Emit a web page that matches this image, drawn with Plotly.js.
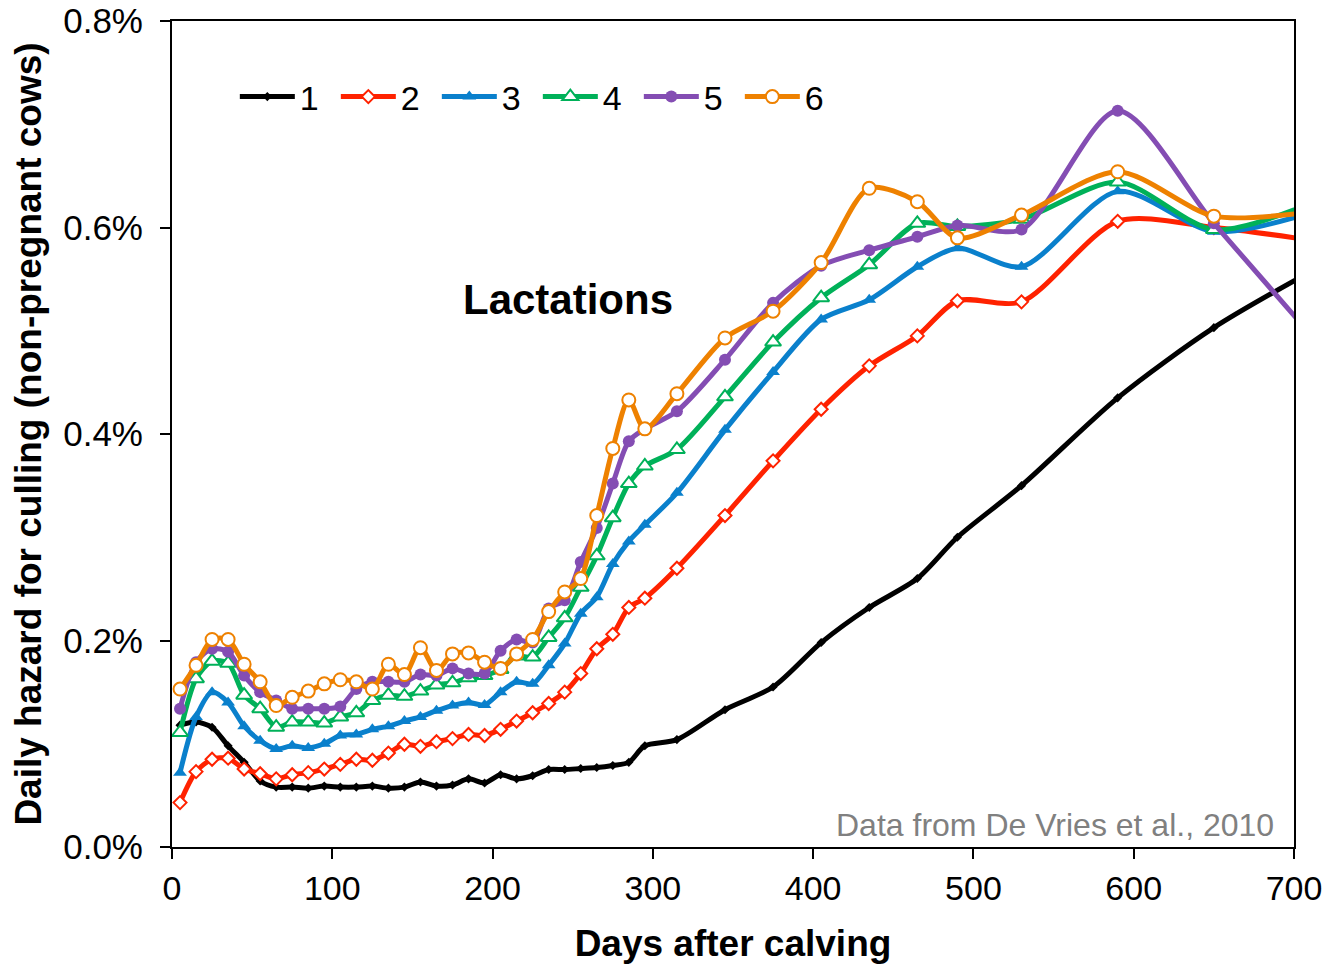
<!DOCTYPE html>
<html>
<head>
<meta charset="utf-8">
<script src="https://cdn.plot.ly/plotly-3.0.1.min.js"></script>
<style>html,body{margin:0;padding:0;background:#fff;}#chart{width:1326px;height:964px;}</style>
</head>
<body>
<div id="chart"></div>
<script>
// Days after calving (bin midpoints)
const days = [5,15,25,35,45,55,65,75,85,95,105,115,125,135,145,155,165,175,185,195,205,215,225,235,245,255,265,275,285,295,315,345,375,405,435,465,490,530,590,650,710];

// Daily hazard for culling (%), by lactation
const lact1 = [0.118,0.121,0.116,0.098,0.082,0.064,0.058,0.058,0.057,0.059,0.058,0.058,0.059,0.057,0.058,0.063,0.059,0.060,0.066,0.062,0.070,0.066,0.069,0.075,0.075,0.076,0.077,0.079,0.082,0.098,0.104,0.133,0.155,0.198,0.232,0.260,0.300,0.350,0.435,0.503,0.557];
const lact2 = [0.043,0.073,0.085,0.086,0.0755,0.071,0.066,0.070,0.072,0.0755,0.080,0.085,0.084,0.091,0.0995,0.0975,0.102,0.105,0.109,0.108,0.114,0.122,0.130,0.139,0.150,0.168,0.192,0.206,0.232,0.241,0.270,0.321,0.374,0.424,0.466,0.495,0.529,0.528,0.606,0.600,0.588];
const lact3 = [0.072,0.126,0.150,0.140,0.117,0.103,0.095,0.098,0.096,0.100,0.108,0.109,0.114,0.117,0.122,0.126,0.132,0.137,0.140,0.1375,0.150,0.160,0.158,0.176,0.197,0.226,0.242,0.274,0.296,0.312,0.343,0.404,0.460,0.511,0.530,0.562,0.580,0.562,0.635,0.596,0.614];
const lact4 = [0.111,0.163,0.180,0.178,0.147,0.134,0.116,0.121,0.121,0.120,0.126,0.130,0.142,0.147,0.146,0.151,0.157,0.159,0.164,0.166,0.172,0.185,0.184,0.203,0.222,0.2515,0.282,0.319,0.352,0.369,0.385,0.436,0.489,0.532,0.564,0.604,0.601,0.608,0.644,0.598,0.623];
const lact5 = [0.134,0.179,0.192,0.189,0.166,0.150,0.142,0.134,0.134,0.134,0.136,0.153,0.160,0.160,0.160,0.167,0.166,0.173,0.168,0.168,0.190,0.201,0.198,0.231,0.239,0.276,0.309,0.352,0.393,0.405,0.422,0.472,0.527,0.563,0.578,0.591,0.602,0.598,0.713,0.604,0.497];
const lact6 = [0.153,0.176,0.201,0.201,0.177,0.160,0.137,0.145,0.151,0.158,0.162,0.160,0.153,0.177,0.167,0.193,0.171,0.187,0.188,0.179,0.173,0.187,0.201,0.228,0.247,0.260,0.321,0.386,0.433,0.405,0.439,0.493,0.519,0.566,0.638,0.625,0.590,0.612,0.654,0.611,0.615];

const seriesNames = ['1','2','3','4','5','6'];
const xTicks = [0,100,200,300,400,500,600,700];
const yTicks = [0,0.2,0.4,0.6,0.8];
const yTickText = yTicks.map(v => v.toFixed(1) + '%');

const FONT = 'Liberation Sans, Arial, Helvetica, sans-serif';

const styles = [
  {color:'#000000', symbol:'diamond', size:7, fill:'#000000', lw:0},
  {color:'#ff2200', symbol:'diamond', size:10, fill:'#ffffff', lw:2},
  {color:'#0a80cc', symbol:'triangle-up', size:12, fill:'#0a80cc', lw:0},
  {color:'#00b159', symbol:'triangle-up', size:14, fill:'#ffffff', lw:2},
  {color:'#844db3', symbol:'circle', size:12, fill:'#844db3', lw:0},
  {color:'#ee8100', symbol:'circle', size:13, fill:'#ffffff', lw:2}
];
const data = [lact1,lact2,lact3,lact4,lact5,lact6];

const traces = data.map((ys,i)=>({
  x: days, y: ys, name: seriesNames[i], type:'scatter', mode:'lines+markers',
  line:{color:styles[i].color, width:5, shape:'spline', smoothing:0.8},
  marker:{symbol:styles[i].symbol, size:styles[i].size, color:styles[i].fill,
          line:{color:styles[i].color, width:styles[i].lw}}
}));

const layout = {
  width:1326, height:964,
  margin:{l:172, r:32, t:21, b:117},
  paper_bgcolor:'#fff', plot_bgcolor:'#fff',
  font:{family:FONT, size:33, color:'#000'},
  showlegend:true,
  legend:{orientation:'h', x:0.056, y:0.908, xanchor:'left', yanchor:'middle',
          font:{family:FONT, size:34, color:'#000'}, bgcolor:'rgba(0,0,0,0)',
          itemwidth:55, entrywidth:31, entrywidthmode:'pixels', traceorder:'normal'},
  xaxis:{range:[0,700], tickmode:'array', tickvals:xTicks, ticks:'outside', ticklen:10, tickwidth:2, tickcolor:'#000',
         showline:true, linewidth:2, linecolor:'#000', mirror:true, showgrid:false, zeroline:false,
         tickfont:{family:FONT, size:34},
         title:{text:'<b>Days after calving</b>', font:{family:FONT, size:37}, standoff:26}},
  yaxis:{range:[0,0.8], tickmode:'array', tickvals:yTicks, ticktext:yTickText, ticks:'outside', ticklen:10, tickwidth:2, tickcolor:'#000',
         ticklabelstandoff:10,
         showline:true, linewidth:2, linecolor:'#000', mirror:true, showgrid:false, zeroline:false,
         tickfont:{family:FONT, size:35},
         title:{text:'<b>Daily hazard for culling (non-pregnant cows)</b>', font:{family:FONT, size:37}, standoff:10}},
  annotations:[
    {text:'<b>Lactations</b>', xref:'paper', yref:'paper', x:0.353, y:0.663, xanchor:'center', yanchor:'middle',
     showarrow:false, font:{family:FONT, size:42, color:'#000'}},
    {text:'Data from De Vries et al., 2010', xref:'paper', yref:'paper', x:0.984, y:0.027, xanchor:'right', yanchor:'middle',
     showarrow:false, font:{family:FONT, size:32, color:'#808080'}}
  ]
};

Plotly.newPlot('chart', traces, layout, {displayModeBar:false, staticPlot:true});
</script>
</body>
</html>
